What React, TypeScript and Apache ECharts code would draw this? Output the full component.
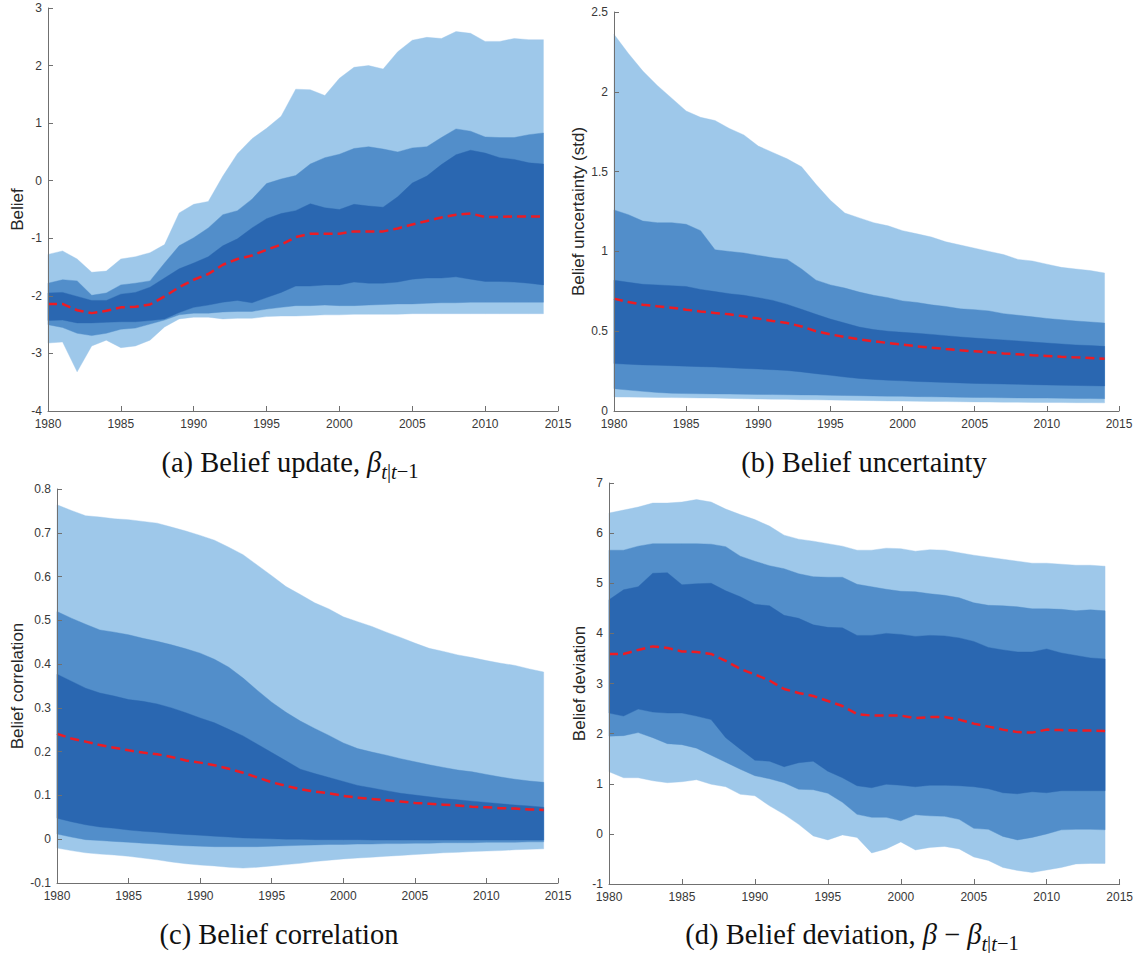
import React, { useEffect, useRef } from "react";
import * as echarts from "echarts";

const YEARS = [
  1980, 1981, 1982, 1983, 1984, 1985, 1986, 1987, 1988, 1989,
  1990, 1991, 1992, 1993, 1994, 1995, 1996, 1997, 1998, 1999,
  2000, 2001, 2002, 2003, 2004, 2005, 2006, 2007, 2008, 2009,
  2010, 2011, 2012, 2013, 2014,
];

// Panel (a) Belief update
const aLo3 = [-2.82, -2.8, -3.32, -2.87, -2.77, -2.9, -2.87, -2.77, -2.54, -2.4, -2.37, -2.37, -2.4, -2.39, -2.39, -2.36, -2.35, -2.35, -2.34, -2.33, -2.33, -2.32, -2.32, -2.32, -2.32, -2.31, -2.31, -2.31, -2.31, -2.31, -2.31, -2.31, -2.31, -2.31, -2.31];
const aLo2 = [-2.5, -2.55, -2.65, -2.69, -2.65, -2.58, -2.56, -2.49, -2.42, -2.33, -2.3, -2.3, -2.28, -2.27, -2.27, -2.23, -2.2, -2.17, -2.17, -2.16, -2.17, -2.17, -2.16, -2.15, -2.14, -2.14, -2.13, -2.12, -2.12, -2.11, -2.11, -2.11, -2.11, -2.11, -2.11];
const aLo1 = [-2.43, -2.42, -2.47, -2.47, -2.46, -2.45, -2.45, -2.43, -2.4, -2.29, -2.2, -2.16, -2.11, -2.08, -2.12, -2.03, -1.94, -1.83, -1.83, -1.81, -1.81, -1.76, -1.78, -1.78, -1.76, -1.71, -1.69, -1.69, -1.67, -1.71, -1.75, -1.75, -1.76, -1.78, -1.81];
const aMed = [-2.14, -2.14, -2.25, -2.3, -2.26, -2.2, -2.19, -2.15, -2.01, -1.85, -1.72, -1.62, -1.46, -1.36, -1.3, -1.2, -1.11, -0.98, -0.92, -0.92, -0.92, -0.88, -0.88, -0.88, -0.83, -0.76, -0.7, -0.64, -0.59, -0.57, -0.63, -0.63, -0.62, -0.62, -0.62];
const aHi1 = [-1.95, -1.94, -2.01, -2.08, -2.08, -1.97, -1.94, -1.85, -1.69, -1.53, -1.43, -1.32, -1.13, -1.01, -0.82, -0.66, -0.57, -0.52, -0.4, -0.47, -0.5, -0.41, -0.44, -0.46, -0.28, -0.04, 0.08, 0.28, 0.45, 0.53, 0.48, 0.4, 0.37, 0.31, 0.29];
const aHi2 = [-1.78, -1.72, -1.74, -1.99, -1.95, -1.81, -1.78, -1.74, -1.43, -1.13, -0.99, -0.82, -0.59, -0.52, -0.32, -0.05, 0.03, 0.09, 0.29, 0.4, 0.46, 0.56, 0.59, 0.55, 0.5, 0.57, 0.59, 0.75, 0.9, 0.86, 0.76, 0.75, 0.75, 0.8, 0.83];
const aHi3 = [-1.28, -1.22, -1.36, -1.59, -1.57, -1.36, -1.32, -1.25, -1.11, -0.56, -0.41, -0.36, 0.08, 0.47, 0.73, 0.91, 1.12, 1.59, 1.58, 1.48, 1.78, 1.97, 2.0, 1.94, 2.24, 2.44, 2.49, 2.47, 2.59, 2.56, 2.42, 2.42, 2.47, 2.45, 2.45];

// Panel (b) Belief uncertainty
const bLo3 = [0.088, 0.087, 0.086, 0.085, 0.084, 0.083, 0.082, 0.081, 0.079, 0.077, 0.075, 0.074, 0.073, 0.071, 0.07, 0.069, 0.067, 0.066, 0.065, 0.063, 0.062, 0.061, 0.06, 0.059, 0.058, 0.057, 0.056, 0.055, 0.055, 0.054, 0.053, 0.053, 0.052, 0.052, 0.051];
const bLo2 = [0.14, 0.131, 0.123, 0.116, 0.111, 0.109, 0.108, 0.107, 0.106, 0.105, 0.104, 0.103, 0.102, 0.101, 0.1, 0.098, 0.097, 0.096, 0.094, 0.093, 0.092, 0.09, 0.089, 0.088, 0.086, 0.085, 0.084, 0.083, 0.082, 0.081, 0.081, 0.08, 0.079, 0.078, 0.077];
const bLo1 = [0.297, 0.293, 0.289, 0.287, 0.284, 0.281, 0.278, 0.275, 0.271, 0.267, 0.263, 0.259, 0.254, 0.245, 0.234, 0.224, 0.213, 0.204, 0.198, 0.193, 0.189, 0.185, 0.182, 0.179, 0.176, 0.173, 0.171, 0.169, 0.167, 0.165, 0.163, 0.161, 0.16, 0.158, 0.157];
const bMed = [0.704, 0.683, 0.666, 0.656, 0.647, 0.635, 0.624, 0.614, 0.606, 0.593, 0.579, 0.564, 0.551, 0.53, 0.5, 0.48, 0.464, 0.449, 0.437, 0.426, 0.416, 0.405, 0.397, 0.388, 0.38, 0.374, 0.368, 0.361, 0.355, 0.349, 0.345, 0.34, 0.336, 0.332, 0.328];
const bHi1 = [0.82, 0.806, 0.794, 0.79, 0.785, 0.78, 0.762, 0.748, 0.735, 0.725, 0.71, 0.693, 0.668, 0.637, 0.606, 0.576, 0.551, 0.526, 0.51, 0.5, 0.493, 0.487, 0.48, 0.472, 0.464, 0.457, 0.451, 0.445, 0.439, 0.432, 0.426, 0.42, 0.414, 0.41, 0.405];
const bHi2 = [1.26, 1.23, 1.19, 1.18, 1.18, 1.17, 1.13, 1.01, 1.0, 0.99, 0.975, 0.96, 0.95, 0.89, 0.82, 0.79, 0.77, 0.745, 0.725, 0.71, 0.69, 0.68, 0.665, 0.655, 0.64, 0.635, 0.627, 0.61, 0.6, 0.59, 0.58, 0.572, 0.564, 0.558, 0.551];
const bHi3 = [2.36, 2.24, 2.13, 2.04, 1.96, 1.88, 1.84, 1.82, 1.77, 1.73, 1.66, 1.62, 1.58, 1.53, 1.42, 1.32, 1.24, 1.21, 1.18, 1.16, 1.13, 1.11, 1.09, 1.06, 1.04, 1.02, 1.0, 0.98, 0.95, 0.94, 0.92, 0.9, 0.89, 0.88, 0.865];

// Panel (c) Belief correlation
const cLo3 = [-0.02, -0.026, -0.031, -0.034, -0.036, -0.039, -0.043, -0.047, -0.052, -0.056, -0.059, -0.061, -0.064, -0.066, -0.064, -0.061, -0.058, -0.055, -0.051, -0.048, -0.045, -0.043, -0.041, -0.039, -0.037, -0.035, -0.033, -0.031, -0.03, -0.028, -0.027, -0.026, -0.024, -0.023, -0.022];
const cLo2 = [0.012, 0.005, -0.001, -0.003, -0.005, -0.007, -0.009, -0.011, -0.013, -0.015, -0.016, -0.017, -0.017, -0.017, -0.017, -0.016, -0.015, -0.014, -0.013, -0.012, -0.012, -0.011, -0.011, -0.01, -0.01, -0.009, -0.009, -0.008, -0.008, -0.008, -0.007, -0.007, -0.007, -0.006, -0.006];
const cLo1 = [0.048, 0.04, 0.033, 0.028, 0.025, 0.021, 0.018, 0.016, 0.013, 0.011, 0.009, 0.007, 0.005, 0.003, 0.002, 0.001, 0.0, 0.0, -0.001, -0.001, -0.001, -0.001, -0.002, -0.002, -0.002, -0.002, -0.002, -0.002, -0.002, -0.002, -0.002, -0.002, -0.002, -0.002, -0.002];
const cMed = [0.241, 0.23, 0.223, 0.215, 0.209, 0.203, 0.198, 0.194, 0.188, 0.18, 0.175, 0.169, 0.161, 0.152, 0.141, 0.13, 0.122, 0.114, 0.109, 0.105, 0.099, 0.095, 0.092, 0.089, 0.086, 0.083, 0.081, 0.079, 0.077, 0.074, 0.073, 0.071, 0.07, 0.068, 0.067];
const cHi1 = [0.377, 0.361, 0.345, 0.334, 0.327, 0.319, 0.315, 0.309, 0.3, 0.289, 0.277, 0.266, 0.251, 0.236, 0.217, 0.198, 0.179, 0.16, 0.15, 0.141, 0.132, 0.123, 0.117, 0.111, 0.105, 0.101, 0.097, 0.093, 0.09, 0.087, 0.084, 0.081, 0.078, 0.076, 0.073];
const cHi2 = [0.52, 0.505, 0.491, 0.478, 0.473, 0.467, 0.459, 0.452, 0.444, 0.435, 0.425, 0.411, 0.393, 0.368, 0.34, 0.313, 0.29, 0.27, 0.253, 0.237, 0.22, 0.207, 0.199, 0.192, 0.184, 0.177, 0.17, 0.164, 0.158, 0.154, 0.148, 0.142, 0.137, 0.133, 0.13];
const cHi3 = [0.764, 0.751, 0.739, 0.736, 0.732, 0.73, 0.726, 0.722, 0.713, 0.704, 0.694, 0.683, 0.667, 0.65, 0.626, 0.602, 0.577, 0.559, 0.54, 0.526, 0.508, 0.497, 0.486, 0.473, 0.461, 0.448, 0.436, 0.429, 0.421, 0.415, 0.408, 0.402, 0.397, 0.389, 0.382];

// Panel (d) Belief deviation
const dLo3 = [1.24, 1.12, 1.12, 1.06, 1.02, 1.04, 1.08, 0.99, 0.94, 0.79, 0.76, 0.56, 0.39, 0.19, -0.04, -0.12, -0.02, -0.07, -0.38, -0.3, -0.16, -0.32, -0.27, -0.25, -0.3, -0.46, -0.53, -0.67, -0.73, -0.77, -0.72, -0.67, -0.6, -0.59, -0.59];
const dLo2 = [1.95, 1.96, 2.02, 1.92, 1.8, 1.78, 1.71, 1.57, 1.43, 1.29, 1.16, 1.1, 1.02, 0.89, 0.88, 0.81, 0.63, 0.39, 0.33, 0.33, 0.26, 0.38, 0.36, 0.35, 0.29, 0.11, 0.09, -0.05, -0.12, -0.07, 0.0, 0.08, 0.09, 0.09, 0.08];
const dLo1 = [2.41, 2.35, 2.49, 2.43, 2.41, 2.41, 2.35, 2.28, 1.92, 1.69, 1.47, 1.45, 1.34, 1.42, 1.45, 1.25, 1.12, 0.96, 0.92, 0.99, 0.97, 0.94, 0.97, 0.97, 0.96, 0.94, 0.9, 0.82, 0.8, 0.84, 0.82, 0.86, 0.86, 0.86, 0.86];
const dMed = [3.59, 3.59, 3.67, 3.74, 3.71, 3.64, 3.63, 3.59, 3.45, 3.29, 3.18, 3.06, 2.89, 2.81, 2.75, 2.65, 2.55, 2.39, 2.36, 2.36, 2.36, 2.31, 2.33, 2.33, 2.28, 2.2, 2.14, 2.08, 2.03, 2.02, 2.08, 2.07, 2.06, 2.06, 2.05];
const dHi1 = [4.67, 4.87, 4.93, 5.2, 5.21, 4.97, 4.99, 5.0, 4.85, 4.73, 4.58, 4.55, 4.36, 4.3, 4.17, 4.12, 4.11, 3.96, 3.96, 4.0, 3.98, 3.94, 3.96, 3.95, 3.91, 3.84, 3.72, 3.67, 3.63, 3.63, 3.69, 3.61, 3.56, 3.51, 3.49];
const dHi2 = [5.66, 5.66, 5.74, 5.79, 5.79, 5.79, 5.79, 5.78, 5.73, 5.54, 5.44, 5.35, 5.29, 5.19, 5.13, 5.12, 5.12, 4.98, 4.93, 4.88, 4.84, 4.83, 4.79, 4.76, 4.71, 4.61, 4.56, 4.55, 4.53, 4.49, 4.49, 4.48, 4.45, 4.47, 4.45];
const dHi3 = [6.4, 6.46, 6.52, 6.6, 6.6, 6.62, 6.67, 6.62, 6.48, 6.37, 6.27, 6.14, 5.96, 5.88, 5.84, 5.79, 5.74, 5.66, 5.66, 5.7, 5.69, 5.64, 5.67, 5.66, 5.61, 5.56, 5.52, 5.48, 5.44, 5.4, 5.4, 5.38, 5.36, 5.36, 5.34];

const X_MIN = 1980;
const X_MAX = 2015;
const X_STEP = 5;

const Y_AXES = [
  { name: "Belief", min: -4, max: 3, interval: 1 },
  { name: "Belief uncertainty (std)", min: 0, max: 2.5, interval: 0.5 },
  { name: "Belief correlation", min: -0.1, max: 0.8, interval: 0.1 },
  { name: "Belief deviation", min: -1, max: 7, interval: 1 },
];

const LIGHT = "#9ec8ea";
const MEDIUM = "#528eca";
const DARK = "#2a67b1";
const RED = "#ec1c24";
const AXIS = "#707070";
const LABEL = "#383838";

const GRIDS = [
  { left: 48, top: 8, width: 510, height: 403 },
  { left: 614, top: 12, width: 505, height: 399 },
  { left: 57, top: 489, width: 501, height: 394 },
  { left: 609, top: 483, width: 511, height: 401 },
];
const NAME_GAPS = [22, 26, 31, 21];

function bandSeries(idx: number, name: string, lo: number[], hi: number[], color: string, z: number) {
  const data = YEARS.map((y, i) => [y, lo[i], hi[i]]);
  return {
    type: "custom",
    name,
    coordinateSystem: "cartesian2d",
    xAxisIndex: idx,
    yAxisIndex: idx,
    silent: true,
    z,
    encode: { x: 0, y: [1, 2] },
    data,
    renderItem: (params: any, api: any) => {
      if (params.dataIndex !== 0) return null;
      const pts: number[][] = [];
      for (let i = 0; i < data.length; i++) pts.push(api.coord([data[i][0], data[i][2]]));
      for (let i = data.length - 1; i >= 0; i--) pts.push(api.coord([data[i][0], data[i][1]]));
      return {
        type: "polygon",
        shape: { points: pts },
        style: { fill: color, stroke: color, lineWidth: 0.4 },
      };
    },
  };
}

function fanSeries(idx: number, lo3: number[], lo2: number[], lo1: number[], med: number[], hi1: number[], hi2: number[], hi3: number[]) {
  return [
    bandSeries(idx, "outer" + idx, lo3, hi3, LIGHT, 1),
    bandSeries(idx, "middle" + idx, lo2, hi2, MEDIUM, 2),
    bandSeries(idx, "inner" + idx, lo1, hi1, DARK, 3),
    {
      type: "line",
      name: "median" + idx,
      xAxisIndex: idx,
      yAxisIndex: idx,
      data: YEARS.map((y, i) => [y, med[i]]),
      symbol: "none",
      showSymbol: false,
      silent: true,
      lineStyle: { color: RED, width: 2.5, type: [9, 5] },
      z: 5,
    },
  ];
}

const SERIF = "Liberation Serif";
const RICH = {
  r: { fontFamily: SERIF, fontSize: 28.5, fill: "#111", lineHeight: 39 },
  i: { fontFamily: SERIF, fontStyle: "italic", fontSize: 28.5, fill: "#111", lineHeight: 39 },
  s: { fontFamily: SERIF, fontStyle: "italic", fontSize: 20.5, fill: "#111", lineHeight: 20.5, verticalAlign: "bottom" },
  sr: { fontFamily: SERIF, fontSize: 20.5, fill: "#111", lineHeight: 20.5, verticalAlign: "bottom" },
};

const CAPTIONS = [
  { x: 290, y: 462, text: "{r|(a) Belief update, }{i|β}{s|t}{sr||}{s|t}{sr|−1}" },
  { x: 864, y: 462, text: "{r|(b) Belief uncertainty}" },
  { x: 279, y: 934, text: "{r|(c) Belief correlation}" },
  { x: 852, y: 934, text: "{r|(d) Belief deviation, }{i|β}{r| − }{i|β}{s|t}{sr||}{s|t}{sr|−1}" },
];

function fmt(v: number) {
  return String(Number(v.toFixed(2)));
}

export default function App() {
  const ref = useRef<HTMLDivElement>(null);
  useEffect(() => {
    document.body.style.margin = "0";
    if (!ref.current) return;
    const chart = echarts.init(ref.current, null, { renderer: "svg" });
    const panels = [
      [aLo3, aLo2, aLo1, aMed, aHi1, aHi2, aHi3],
      [bLo3, bLo2, bLo1, bMed, bHi1, bHi2, bHi3],
      [cLo3, cLo2, cLo1, cMed, cHi1, cHi2, cHi3],
      [dLo3, dLo2, dLo1, dMed, dHi1, dHi2, dHi3],
    ];
    const series: any[] = [];
    panels.forEach((p, i) => {
      series.push(...fanSeries(i, p[0], p[1], p[2], p[3], p[4], p[5], p[6]));
    });
    const labelStyle = { color: LABEL, fontSize: 12, fontFamily: "Liberation Sans" };
    const option: any = {
      animation: false,
      backgroundColor: "#ffffff",
      grid: GRIDS.map((g) => ({ ...g, containLabel: false })),
      xAxis: GRIDS.map((_, i) => ({
        gridIndex: i,
        type: "value",
        min: X_MIN,
        max: X_MAX,
        interval: X_STEP,
        z: 10,
        axisLine: { show: true, onZero: false, lineStyle: { color: AXIS, width: 1 } },
        axisTick: { show: true, inside: true, length: 5, lineStyle: { color: AXIS, width: 1 } },
        axisLabel: { ...labelStyle, margin: 7, formatter: (v: number) => String(v) },
        splitLine: { show: false },
      })),
      yAxis: Y_AXES.map((y, i) => ({
        gridIndex: i,
        type: "value",
        min: y.min,
        max: y.max,
        interval: y.interval,
        z: 10,
        name: y.name,
        nameLocation: "middle",
        nameGap: NAME_GAPS[i],
        nameRotate: 90,
        nameTextStyle: { color: "#262626", fontSize: 17, fontFamily: "Liberation Sans" },
        axisLine: { show: true, onZero: false, lineStyle: { color: AXIS, width: 1 } },
        axisTick: { show: true, inside: true, length: 5, lineStyle: { color: AXIS, width: 1 } },
        axisLabel: { ...labelStyle, margin: 6, formatter: fmt },
        splitLine: { show: false },
      })),
      series,
      graphic: CAPTIONS.map((c) => ({
        type: "text",
        x: c.x,
        y: c.y,
        silent: true,
        style: {
          text: c.text,
          rich: RICH,
          align: "center",
          verticalAlign: "middle",
          fill: "#111",
          fontFamily: SERIF,
          fontSize: 28.5,
        },
      })),
    };
    chart.setOption(option);
    return () => chart.dispose();
  }, []);
  return <div ref={ref} style={{ width: 1136, height: 953 }} />;
}
